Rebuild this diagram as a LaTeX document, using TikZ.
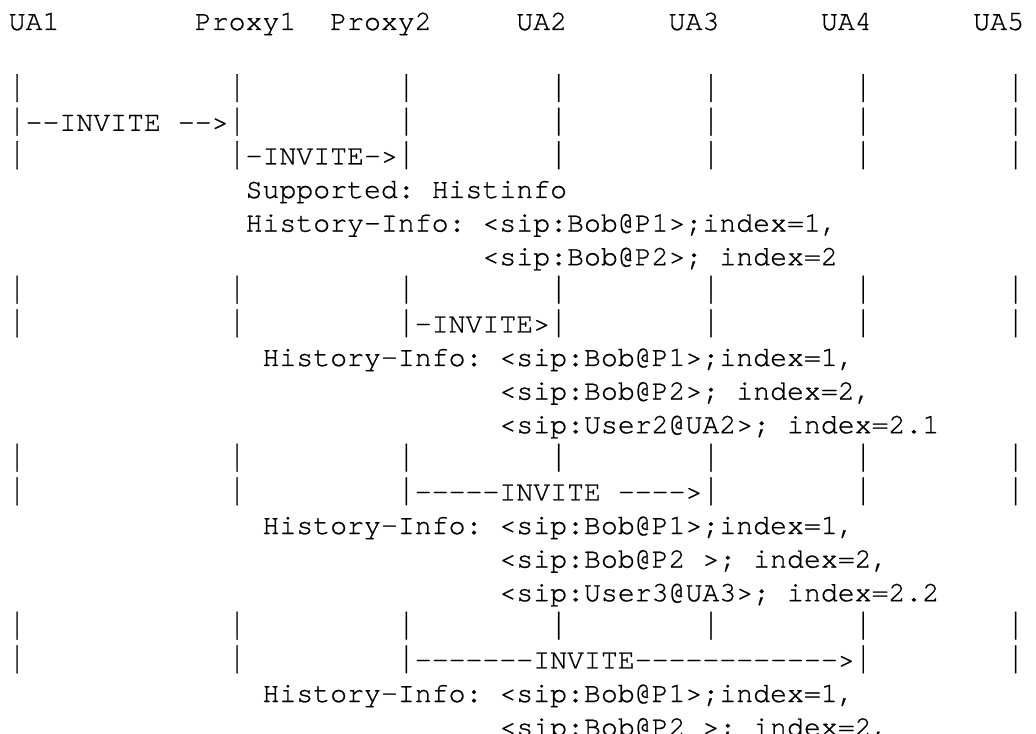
\documentclass[tikz,border=0pt]{standalone}
\usepackage{fontspec}
\setmonofont{texgyrecursor-regular.otf}[FakeBold=0.8]
\def\xo{6.5pt}
\def\cw{12.692pt}
\def\yo{22.5pt}
\def\rh{25.2pt}
\newcommand\vb{\scalebox{1}[1.35]{|}}
\tikzset{
  t/.style={anchor=base west, inner sep=0pt, outer sep=0pt,
    font={\ttfamily\fontsize{21.15pt}{25pt}\selectfont}, text=black}
}
\newcommand\tx[3]{\node[t] (n#2-#1) at ({\xo+#1*\cw},{-\yo-#2*\rh}) {#3};}
\begin{document}
\begin{tikzpicture}
\fill[white] (0,0) rectangle (777pt,-550.5pt);
\useasboundingbox (0,0) rectangle (777pt,-550.5pt);
% header
\tx{0}{0}{UA1}
\tx{11}{0}{Proxy1}
\tx{19}{0}{Proxy2}
\tx{30}{0}{UA2}
\tx{39}{0}{UA3}
\tx{48}{0}{UA4}
\tx{57}{0}{UA5}
% full bar rows
\foreach \r in {2,8,13,18}{
  \foreach \c in {0,13,23,32,41,50,59}{\tx{\c}{\r}{\vb}}
}
% row 3
\tx{0}{3}{\vb--INVITE -->\vb}
\foreach \c in {23,32,41,50,59}{\tx{\c}{3}{\vb}}
% row 4
\tx{0}{4}{\vb}
\tx{13}{4}{\vb-INVITE->\vb}
\foreach \c in {32,41,50,59}{\tx{\c}{4}{\vb}}
\tx{14}{5}{Supported: Histinfo}
\tx{14}{6}{History-Info: <sip:Bob@P1>;index=1,}
\tx{28}{7}{<sip:Bob@P2>; index=2}
% row 9
\foreach \c in {0,13,41,50,59}{\tx{\c}{9}{\vb}}
\tx{23}{9}{\vb-INVITE>\vb}
\tx{15}{10}{History-Info: <sip:Bob@P1>;index=1,}
\tx{29}{11}{<sip:Bob@P2>; index=2,}
\tx{29}{12}{<sip:User2@UA2>; index=2.1}
% row 14
\foreach \c in {0,13,50,59}{\tx{\c}{14}{\vb}}
\tx{23}{14}{\vb-----INVITE ---->\vb}
\tx{15}{15}{History-Info: <sip:Bob@P1>;index=1,}
\tx{29}{16}{<sip:Bob@P2 >; index=2,}
\tx{29}{17}{<sip:User3@UA3>; index=2.2}
% row 19
\foreach \c in {0,13,59}{\tx{\c}{19}{\vb}}
\tx{23}{19}{\vb-------INVITE------------>\vb}
\tx{15}{20}{History-Info: <sip:Bob@P1>;index=1,}
\tx{29}{21}{<sip:Bob@P2 >; index=2,}
\end{tikzpicture}
\end{document}
